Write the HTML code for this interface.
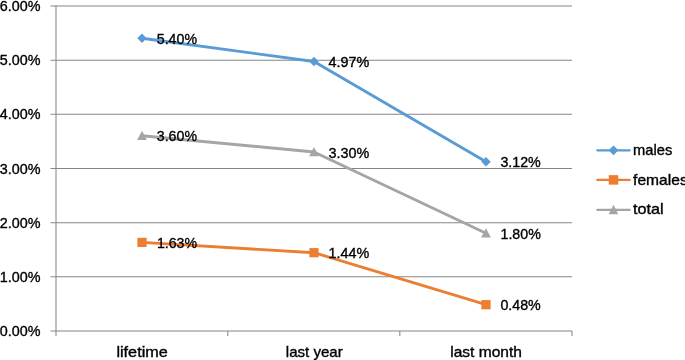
<!DOCTYPE html>
<html lang="en">
<head>
<meta charset="utf-8">
<title>Prevalence chart</title>
<style>
html,body{margin:0;padding:0;background:#fff;}
body{width:685px;height:360px;overflow:hidden;}
svg{display:block;}
svg text{font-family:"Liberation Sans",sans-serif;font-size:14.3px;fill:#000;stroke:#000;stroke-width:0.35px;}
</style>
</head>
<body>
<svg width="685" height="360" viewBox="0 0 685 360">
<rect x="0" y="0" width="685" height="360" fill="#ffffff"/>
<g stroke="#868686" stroke-width="1.05" fill="none">
<line x1="50.50" y1="6.00" x2="572.00" y2="6.00"/>
<line x1="50.50" y1="60.17" x2="572.00" y2="60.17"/>
<line x1="50.50" y1="114.33" x2="572.00" y2="114.33"/>
<line x1="50.50" y1="168.50" x2="572.00" y2="168.50"/>
<line x1="50.50" y1="222.67" x2="572.00" y2="222.67"/>
<line x1="50.50" y1="276.83" x2="572.00" y2="276.83"/>
<line x1="50.50" y1="331.00" x2="572.00" y2="331.00"/>
<line x1="56.00" y1="5.50" x2="56.00" y2="336.00" stroke-width="1.05"/>
<line x1="227.82" y1="331.00" x2="227.82" y2="336.00" stroke-width="1.05"/>
<line x1="399.82" y1="331.00" x2="399.82" y2="336.00" stroke-width="1.05"/>
<line x1="572.00" y1="331.00" x2="572.00" y2="336.00" stroke-width="1.05"/>
</g>
<text x="-0.3" y="11.00" textLength="40.7" lengthAdjust="spacingAndGlyphs">6.00%</text>
<text x="-0.3" y="65.17" textLength="40.7" lengthAdjust="spacingAndGlyphs">5.00%</text>
<text x="-0.3" y="119.33" textLength="40.7" lengthAdjust="spacingAndGlyphs">4.00%</text>
<text x="-0.3" y="173.50" textLength="40.7" lengthAdjust="spacingAndGlyphs">3.00%</text>
<text x="-0.3" y="227.67" textLength="40.7" lengthAdjust="spacingAndGlyphs">2.00%</text>
<text x="-0.3" y="281.83" textLength="40.7" lengthAdjust="spacingAndGlyphs">1.00%</text>
<text x="-0.3" y="336.00" textLength="40.7" lengthAdjust="spacingAndGlyphs">0.00%</text>
<text x="116.40" y="356.7" textLength="51.40" lengthAdjust="spacingAndGlyphs">lifetime</text>
<text x="285.80" y="356.7" textLength="57.00" lengthAdjust="spacingAndGlyphs">last year</text>
<text x="450.20" y="356.7" textLength="71.80" lengthAdjust="spacingAndGlyphs">last month</text>
<polyline points="142.00,38.20 314.00,61.49 486.00,161.70" fill="none" stroke="#5b9bd5" stroke-width="2.9" stroke-linejoin="round" stroke-linecap="round"/>
<polygon points="142.00,33.50 146.70,38.20 142.00,42.90 137.30,38.20" fill="#5b9bd5"/>
<polygon points="314.00,56.79 318.70,61.49 314.00,66.19 309.30,61.49" fill="#5b9bd5"/>
<polygon points="486.00,157.00 490.70,161.70 486.00,166.40 481.30,161.70" fill="#5b9bd5"/>
<polyline points="142.00,242.41 314.00,252.70 486.00,304.70" fill="none" stroke="#ed7d31" stroke-width="2.9" stroke-linejoin="round" stroke-linecap="round"/>
<rect x="137.40" y="237.81" width="9.20" height="9.20" fill="#ed7d31"/>
<rect x="309.40" y="248.10" width="9.20" height="9.20" fill="#ed7d31"/>
<rect x="481.40" y="300.10" width="9.20" height="9.20" fill="#ed7d31"/>
<polyline points="142.00,135.70 314.00,151.95 486.00,233.20" fill="none" stroke="#a5a5a5" stroke-width="2.9" stroke-linejoin="round" stroke-linecap="round"/>
<polygon points="142.00,130.70 146.85,140.05 137.15,140.05" fill="#a5a5a5"/>
<polygon points="314.00,146.95 318.85,156.30 309.15,156.30" fill="#a5a5a5"/>
<polygon points="486.00,228.20 490.85,237.55 481.15,237.55" fill="#a5a5a5"/>
<text x="156.80" y="43.90" textLength="40.20" lengthAdjust="spacingAndGlyphs">5.40%</text>
<text x="328.40" y="67.19" textLength="40.80" lengthAdjust="spacingAndGlyphs">4.97%</text>
<text x="500.40" y="167.40" textLength="40.40" lengthAdjust="spacingAndGlyphs">3.12%</text>
<text x="156.90" y="248.11" textLength="40.10" lengthAdjust="spacingAndGlyphs">1.63%</text>
<text x="328.50" y="258.40" textLength="40.70" lengthAdjust="spacingAndGlyphs">1.44%</text>
<text x="500.40" y="310.40" textLength="40.40" lengthAdjust="spacingAndGlyphs">0.48%</text>
<text x="156.80" y="141.40" textLength="40.20" lengthAdjust="spacingAndGlyphs">3.60%</text>
<text x="328.40" y="157.65" textLength="40.80" lengthAdjust="spacingAndGlyphs">3.30%</text>
<text x="500.50" y="238.90" textLength="40.30" lengthAdjust="spacingAndGlyphs">1.80%</text>
<line x1="597.3" y1="150.35" x2="629.7" y2="150.35" stroke="#5b9bd5" stroke-width="2.25" stroke-linecap="round"/>
<polygon points="613.50,145.50 618.35,150.35 613.50,155.20 608.65,150.35" fill="#5b9bd5"/>
<text x="633.1" y="155.00" textLength="39.20" lengthAdjust="spacingAndGlyphs">males</text>
<line x1="597.3" y1="179.90" x2="629.7" y2="179.90" stroke="#ed7d31" stroke-width="2.25" stroke-linecap="round"/>
<rect x="608.75" y="175.15" width="9.50" height="9.50" fill="#ed7d31"/>
<text x="633.1" y="184.50" textLength="54.60" lengthAdjust="spacingAndGlyphs">females</text>
<line x1="597.3" y1="209.85" x2="629.7" y2="209.85" stroke="#a5a5a5" stroke-width="2.25" stroke-linecap="round"/>
<polygon points="613.50,204.85 618.35,214.20 608.65,214.20" fill="#a5a5a5"/>
<text x="633.1" y="214.40" textLength="30.60" lengthAdjust="spacingAndGlyphs">total</text>
</svg>
</body>
</html>
